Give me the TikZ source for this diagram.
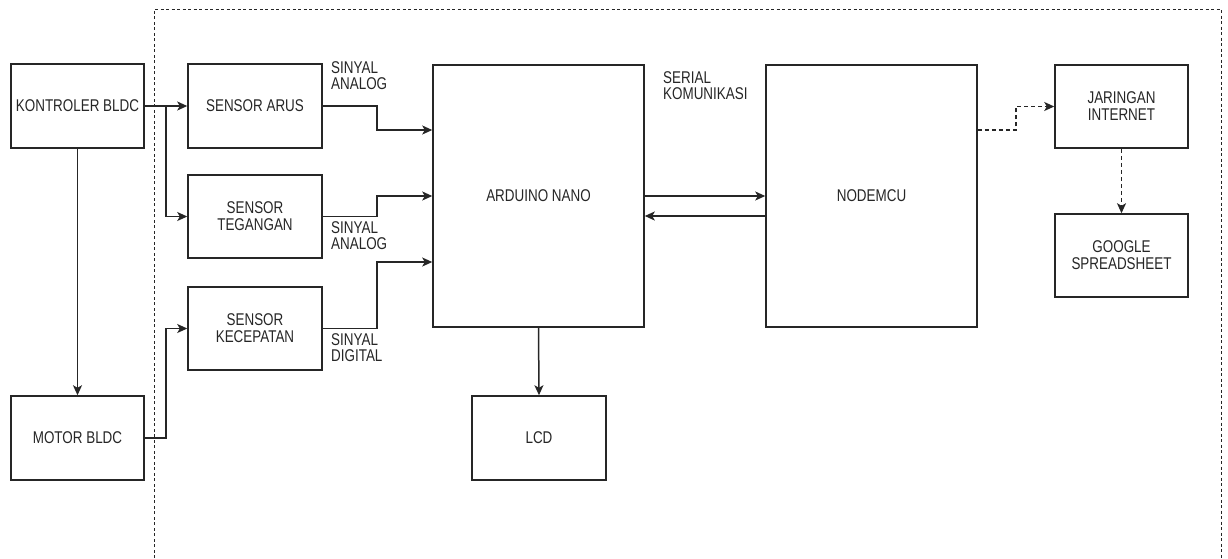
\documentclass[tikz,border=0pt]{standalone}
\usepackage{fontspec}
\setmainfont{Liberation Sans}[FakeStretch=0.79]
\usetikzlibrary{arrows.meta}
\definecolor{ink}{HTML}{262626}
\tikzset{
  blk/.style={draw=ink, line width=1.5pt, rectangle, inner sep=2pt, align=center, text=ink,
    font=\fontsize{17}{17}\selectfont},
  lbl/.style={inner sep=0pt, align=left, text=ink, font=\fontsize{17}{16.5}\selectfont},
  arr/.style={draw=ink, line width=1.5pt, -{Stealth[length=10pt,width=9pt,inset=2.5pt]}},
  dsharr/.style={arr, dash pattern=on 4pt off 3pt},
  frame/.style={draw=ink, line width=1pt, dash pattern=on 3pt off 2.5pt}
}
\begin{document}
\begin{tikzpicture}[x=1pt,y=-1pt]
\useasboundingbox (0,0) rectangle (1228,558);
\draw[frame] (154,558) -- (154,9) -- (1221,9) -- (1221,558);

\node[blk, minimum width=133pt, minimum height=84pt] (k) at (77.5,106) {KONTROLER BLDC};
\node[blk, minimum width=133pt, minimum height=84pt] (m) at (77.5,438) {MOTOR BLDC};
\node[blk, minimum width=134pt, minimum height=84pt] (sa) at (255,106) {SENSOR ARUS};
\node[blk, minimum width=134pt, minimum height=83pt] (st) at (255,216.5) {SENSOR\\TEGANGAN};
\node[blk, minimum width=134pt, minimum height=83pt] (sk) at (255,328.5) {SENSOR\\KECEPATAN};
\node[blk, minimum width=211pt, minimum height=262pt] (ard) at (538.5,196) {ARDUINO NANO};
\node[blk, minimum width=134pt, minimum height=84pt] (lcd) at (539,438) {LCD};
\node[blk, minimum width=211pt, minimum height=262pt] (nm) at (871.5,196) {NODEMCU};
\node[blk, minimum width=133pt, minimum height=83pt] (ji) at (1121.5,106.5) {JARINGAN\\INTERNET};
\node[blk, minimum width=133pt, minimum height=83pt] (gs) at (1121.5,255.5) {GOOGLE\\SPREADSHEET};

\node[lbl, anchor=north west] (l1) at (331,61) {SINYAL\\ANALOG};
\node[lbl, anchor=north west] (l2) at (331,221) {SINYAL\\ANALOG};
\node[lbl, anchor=north west] (l3) at (331,333) {SINYAL\\DIGITAL};
\node[lbl, anchor=north west] (l4) at (663,71) {SERIAL\\KOMUNIKASI};

\coordinate (br) at (166,106);
\draw[arr] (k.east) -- (sa.west);
\draw[arr] (br) |- (st.west);
\draw[arr] (k.south) -- (m.north);
\draw[arr] (m.east) -| (166,328.5) -- (sk.west);
\draw[arr] (sa.east) -| (377,130) -- (ard.west |- 0,130);
\draw[arr] (st.east) -| (377,196) -- (ard.west |- 0,196);
\draw[arr] (sk.east) -| (377,262) -- (ard.west |- 0,262);
\draw[arr] (ard.east) -- (nm.west);
\draw[arr] (nm.west |- 0,216) -- (ard.east |- 0,216);
\draw[arr] (ard.south) -- (lcd.north);
\draw[dsharr] (nm.east |- 0,130) -| (1016,106.5) -- (ji.west);
\draw[dsharr] (ji.south) -- (gs.north);
\end{tikzpicture}
\end{document}
